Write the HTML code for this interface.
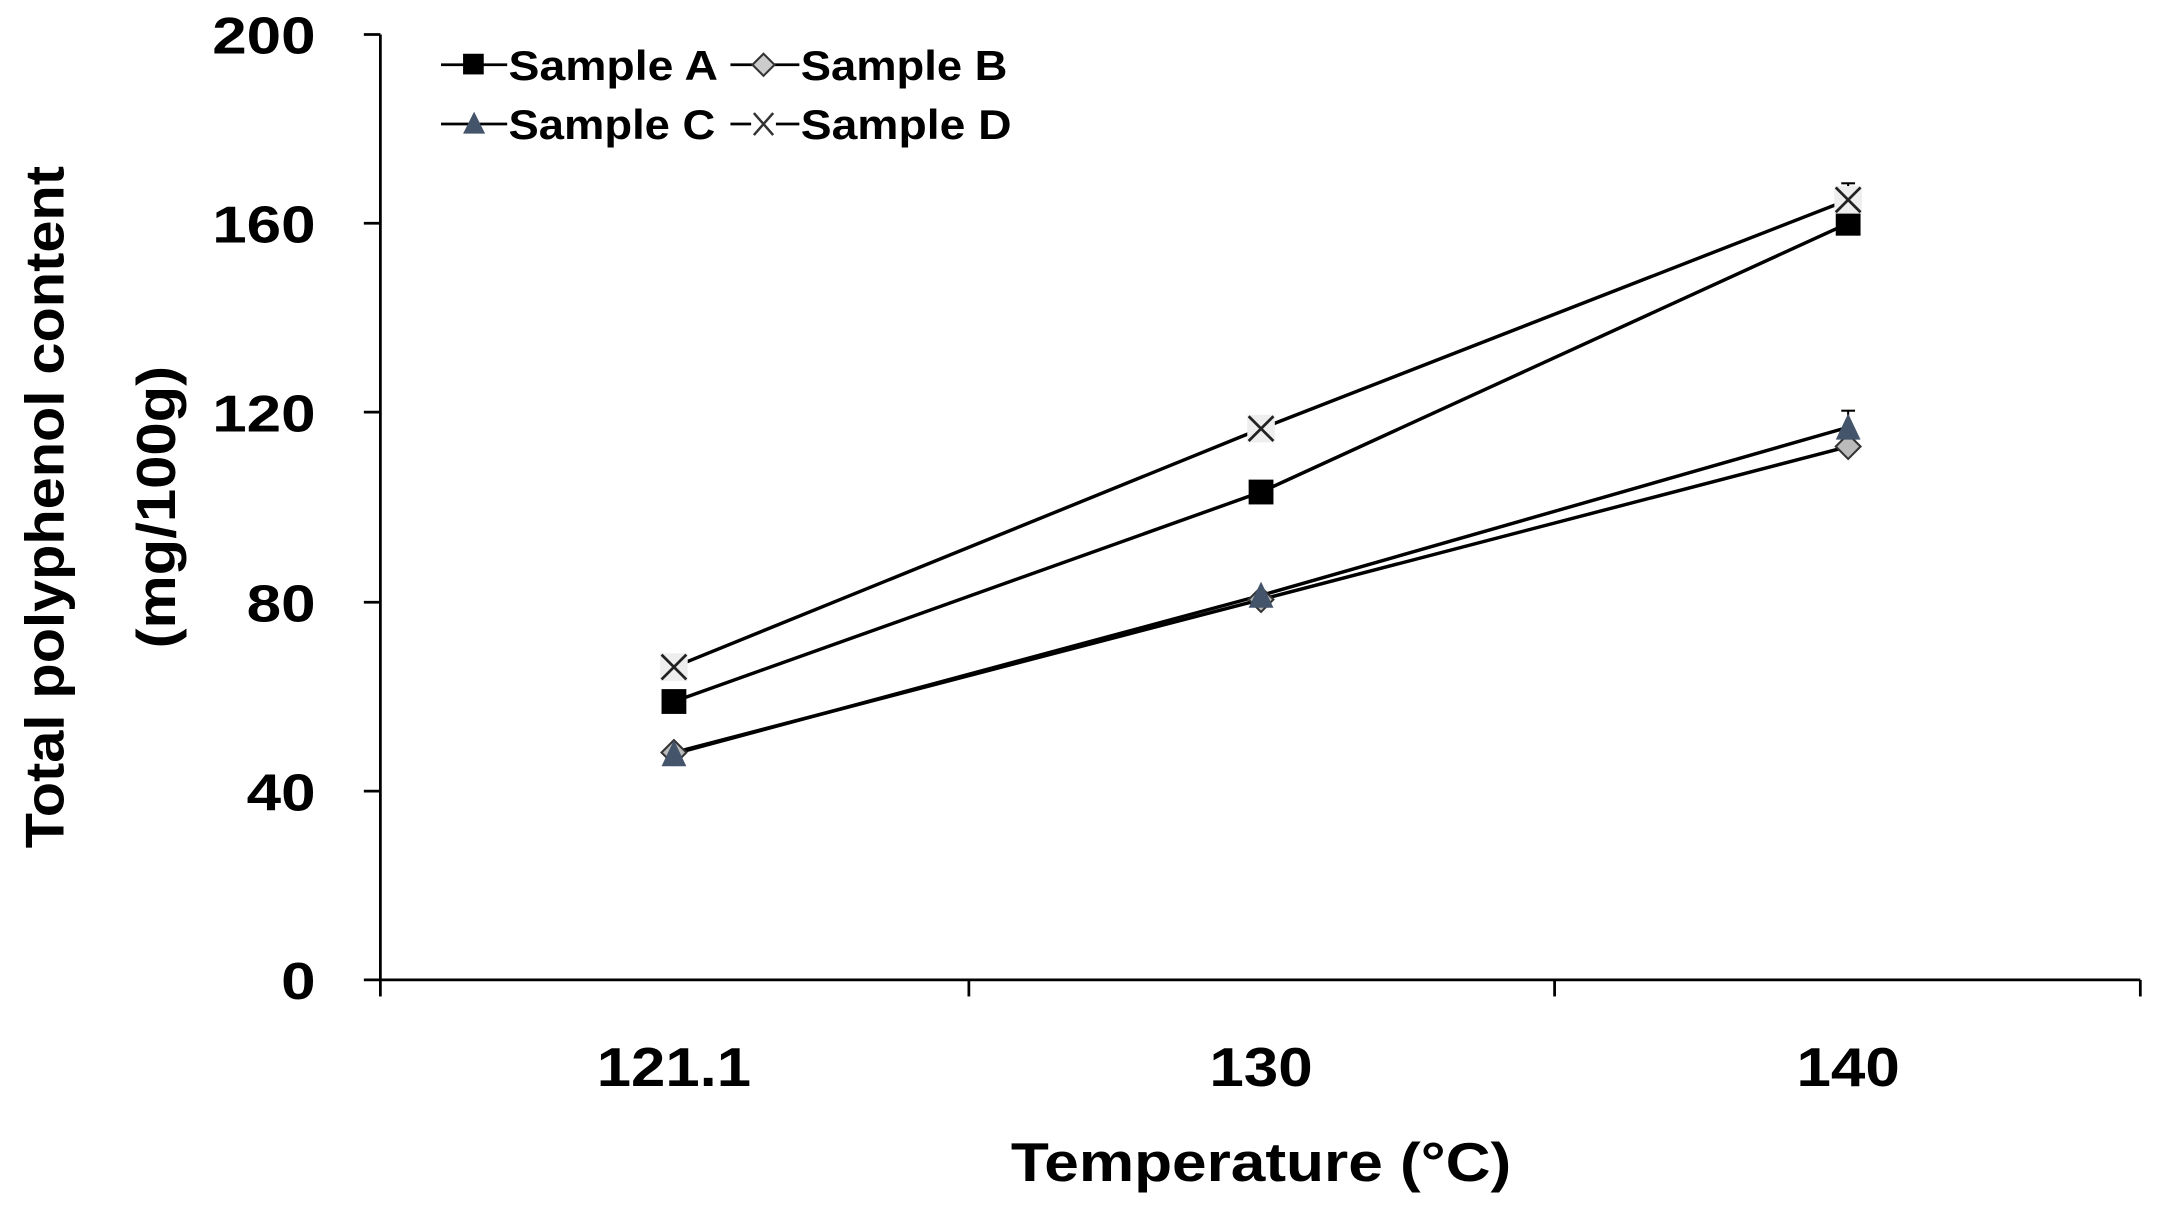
<!DOCTYPE html>
<html><head><style>html,body{margin:0;padding:0;background:#fff}svg{display:block}</style></head>
<body>
<svg width="2161" height="1208" viewBox="0 0 1568 876.5" preserveAspectRatio="none" xmlns="http://www.w3.org/2000/svg" font-family="'Liberation Sans', 'DejaVu Sans', sans-serif" font-weight="bold">
<rect width="1568" height="877" fill="#fff"/>
<g stroke="#000" stroke-width="2" fill="none">
<line x1="276" y1="25" x2="276" y2="712"/>
<line x1="276" y1="711" x2="1553" y2="711"/>
<line x1="264" y1="25" x2="276" y2="25"/>
<line x1="264" y1="162" x2="276" y2="162"/>
<line x1="264" y1="299" x2="276" y2="299"/>
<line x1="264" y1="437" x2="276" y2="437"/>
<line x1="264" y1="574" x2="276" y2="574"/>
<line x1="264" y1="711" x2="276" y2="711"/>
<line x1="276" y1="711" x2="276" y2="723"/>
<line x1="703" y1="711" x2="703" y2="723"/>
<line x1="1128" y1="711" x2="1128" y2="723"/>
<line x1="1553" y1="711" x2="1553" y2="723"/>
</g>
<g font-size="38" text-anchor="end" lengthAdjust="spacingAndGlyphs">
<text x="229" y="39" textLength="75" lengthAdjust="spacingAndGlyphs">200</text>
<text x="229" y="176" textLength="75" lengthAdjust="spacingAndGlyphs">160</text>
<text x="229" y="313" textLength="75" lengthAdjust="spacingAndGlyphs">120</text>
<text x="229" y="451" textLength="50" lengthAdjust="spacingAndGlyphs">80</text>
<text x="229" y="588" textLength="50" lengthAdjust="spacingAndGlyphs">40</text>
<text x="229" y="725" textLength="25" lengthAdjust="spacingAndGlyphs">0</text>
</g>
<g font-size="40" text-anchor="middle">
<text x="489" y="788" textLength="112" lengthAdjust="spacingAndGlyphs">121.1</text>
<text x="915" y="788" textLength="75" lengthAdjust="spacingAndGlyphs">130</text>
<text x="1341" y="788" textLength="75" lengthAdjust="spacingAndGlyphs">140</text>
<text x="915" y="857" textLength="363" lengthAdjust="spacingAndGlyphs">Temperature (°C)</text>
</g>
<text transform="translate(46,368) rotate(-90)" font-size="40" text-anchor="middle" textLength="495" lengthAdjust="spacingAndGlyphs">Total polyphenol content</text>
<text transform="translate(127,368) rotate(-90)" font-size="40" text-anchor="middle" textLength="205" lengthAdjust="spacingAndGlyphs">(mg/100g)</text>
<g stroke="#000" stroke-width="2.5" fill="none">
<polyline points="489,484 915,311 1341,145"/>
<polyline points="489,509 915,357 1341,162"/>
<polyline points="489,546 915,435 1341,324"/>
<polyline points="489,547 915,432 1341,310"/>
</g>
<g stroke="#000" stroke-width="1.5">
<line x1="1341" y1="145" x2="1341" y2="133"/><line x1="1336" y1="133" x2="1346" y2="133"/>
<line x1="1341" y1="310" x2="1341" y2="298"/><line x1="1336" y1="298" x2="1346" y2="298"/>
</g>
<g fill="#000"><rect x="480" y="500" width="18" height="18"/><rect x="906" y="348" width="18" height="18"/><rect x="1332" y="153" width="18" height="18"/></g>
<g fill="#bbb" stroke="#333" stroke-width="1.5">
<polygon points="489,537 498,546 489,555 480,546"/><polygon points="915,426 924,435 915,444 906,435"/><polygon points="1341,315 1350,324 1341,333 1332,324"/>
</g>
<g fill="#44546a">
<polygon points="489,537 498,556 480,556"/><polygon points="915,422 924,441 906,441"/><polygon points="1341,300 1350,319 1332,319"/>
</g>
<g stroke="#222" stroke-width="2">
<rect x="479" y="474" width="20" height="20" fill="#eee" stroke="none"/>
<path d="M480,475 L498,493 M498,475 L480,493"/>
<rect x="905" y="301" width="20" height="20" fill="#eee" stroke="none"/>
<path d="M906,302 L924,320 M924,302 L906,320"/>
<rect x="1331" y="135" width="20" height="20" fill="#eee" stroke="none"/>
<path d="M1332,136 L1350,154 M1350,136 L1332,154"/>
</g>
<g stroke="#000" stroke-width="2">
<line x1="320" y1="47" x2="368" y2="47"/><line x1="530" y1="47" x2="580" y2="47"/>
<line x1="320" y1="90" x2="368" y2="90"/><line x1="530" y1="90" x2="580" y2="90"/>
</g>
<rect x="336" y="39" width="15" height="15" fill="#000"/>
<polygon points="554,39 562,47 554,55 546,47" fill="#ccc" stroke="#333" stroke-width="1.5"/>
<polygon points="344,81 352,97 336,97" fill="#44546a"/>
<rect x="545" y="81" width="18" height="18" fill="#fff"/>
<path d="M547,82 L561,98 M561,82 L547,98" stroke="#333" stroke-width="1.8"/>
<g font-size="30">
<text x="369" y="58" textLength="152" lengthAdjust="spacingAndGlyphs">Sample A</text>
<text x="581" y="58" textLength="150" lengthAdjust="spacingAndGlyphs">Sample B</text>
<text x="369" y="101" textLength="150" lengthAdjust="spacingAndGlyphs">Sample C</text>
<text x="581" y="101" textLength="153" lengthAdjust="spacingAndGlyphs">Sample D</text>
</g>
</svg>
</body></html>
